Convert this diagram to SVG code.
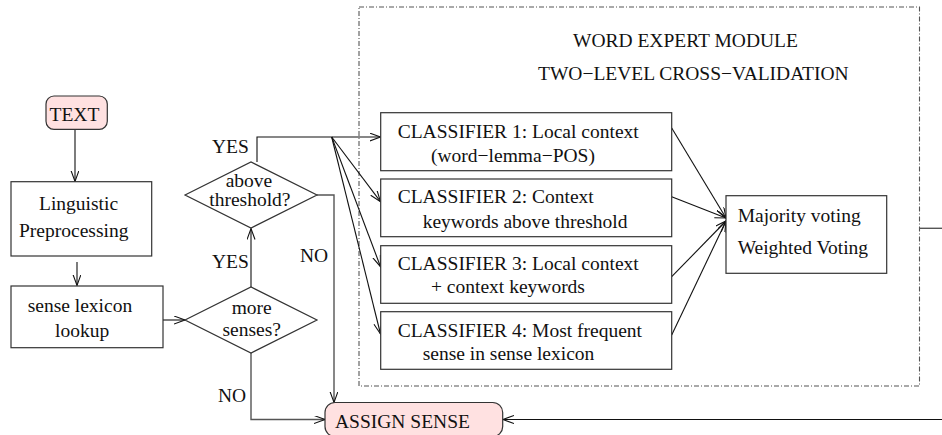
<svg xmlns="http://www.w3.org/2000/svg" width="942" height="435" viewBox="0 0 942 435">
<style>
text{font-family:"Liberation Serif","Times New Roman",serif;font-size:19.5px;fill:#111}
.box{fill:#fff;stroke:#333;stroke-width:1.2}
.term{fill:#ffe1e1;stroke:#333;stroke-width:1.2}
.ln{fill:none;stroke:#111;stroke-width:1.1}
.gl{fill:none;stroke:#555;stroke-width:1.4}
.dash{fill:none;stroke:#555;stroke-width:1.1;stroke-dasharray:5 2 1 2}
</style>
<defs>
<marker id="ah" markerUnits="userSpaceOnUse" markerWidth="14" markerHeight="10" refX="11" refY="4" orient="auto">
<path d="M0,0 L11,4 L0,8" fill="none" stroke="#111" stroke-width="1.1"/>
</marker>
</defs>
<g id="module">
<rect class="dash" x="359" y="7" width="560.5" height="379"/>
<text x="573" y="47">WORD EXPERT MODULE</text>
<text x="538" y="80">TWO−LEVEL CROSS−VALIDATION</text>
</g>
<g id="connectors">
<line class="ln" x1="75" y1="129.5" x2="75" y2="181.5" marker-end="url(#ah)"/>
<line class="ln" x1="77" y1="262" x2="77" y2="285.5" marker-end="url(#ah)"/>
<line class="ln" x1="163" y1="320" x2="185" y2="320" marker-end="url(#ah)"/>
<line class="ln" x1="251" y1="287" x2="251" y2="228.5" marker-end="url(#ah)"/>
<polyline class="gl" points="251,353 251,419.5 325,419.5" marker-end="url(#ah)"/>
<polyline class="gl" points="317,195 334,195 334,402.5" marker-end="url(#ah)"/>
<polyline class="ln" points="257,162 257,137 380.5,137" marker-end="url(#ah)"/>
<line class="ln" x1="331.7" y1="137" x2="380.5" y2="201.7" marker-end="url(#ah)"/>
<line class="ln" x1="331.7" y1="137" x2="380.5" y2="266.7" marker-end="url(#ah)"/>
<line class="ln" x1="331.7" y1="137" x2="380.5" y2="334" marker-end="url(#ah)"/>
<line class="ln" x1="671.7" y1="128" x2="726" y2="218" marker-end="url(#ah)"/>
<line class="ln" x1="671.7" y1="196.7" x2="726" y2="218" marker-end="url(#ah)"/>
<line class="ln" x1="671.7" y1="276.7" x2="726" y2="221" marker-end="url(#ah)"/>
<line class="ln" x1="671.7" y1="335" x2="726" y2="221" marker-end="url(#ah)"/>
<line class="gl" x1="920" y1="228.3" x2="942" y2="228.3"/>
<line class="ln" x1="942" y1="419.5" x2="503" y2="419.5" marker-end="url(#ah)"/>
<text x="212" y="153.3">YES</text>
<text x="212" y="268.3">YES</text>
<text x="300" y="261.7">NO</text>
<text x="218" y="401.7">NO</text>
</g>
<g id="text-node">
<rect class="term" x="46" y="96" width="61.3" height="33.3" rx="8"/>
<text x="49.5" y="120.7">TEXT</text>
</g>
<g id="linguistic">
<rect class="box" x="11" y="181.7" width="140.7" height="74.3"/>
<text x="39" y="210">Linguistic</text>
<text x="19" y="236.7">Preprocessing</text>
</g>
<g id="lexicon">
<rect class="box" x="11" y="286" width="152" height="61.7"/>
<text x="27.7" y="311.7">sense lexicon</text>
<text x="55" y="336.7">lookup</text>
</g>
<g id="more-senses">
<polygon class="box" points="185,320 251,287 317,320 251,353"/>
<text x="231.7" y="314.3">more</text>
<text x="222.5" y="336.3">senses?</text>
</g>
<g id="above-threshold">
<polygon class="box" points="185,195 251,162 317,195 251,228"/>
<text x="225.7" y="186.7">above</text>
<text x="209.3" y="206">threshold?</text>
</g>
<g id="classifier1">
<rect class="box" x="380.7" y="112.7" width="291" height="58"/>
<text x="397.7" y="138.3">CLASSIFIER 1: Local context</text>
<text x="431" y="161.7">(word−lemma−POS)</text>
</g>
<g id="classifier2">
<rect class="box" x="380.7" y="179" width="291" height="57.7"/>
<text x="397.7" y="203.3">CLASSIFIER 2: Context</text>
<text x="422.7" y="228.3">keywords above threshold</text>
</g>
<g id="classifier3">
<rect class="box" x="380.7" y="245.7" width="291" height="57.6"/>
<text x="397.7" y="270">CLASSIFIER 3: Local context</text>
<text x="431" y="293.3">+ context keywords</text>
</g>
<g id="classifier4">
<rect class="box" x="380.7" y="311.7" width="291" height="57.6"/>
<text x="397.7" y="336.7">CLASSIFIER 4: Most frequent</text>
<text x="422.7" y="360">sense in sense lexicon</text>
</g>
<g id="voting">
<rect class="box" x="726" y="195.7" width="160.7" height="77.6"/>
<text x="737.7" y="221.7">Majority voting</text>
<text x="737.7" y="254.3">Weighted Voting</text>
</g>
<g id="assign-sense">
<rect class="term" x="325" y="402.5" width="177.7" height="34" rx="10"/>
<text x="335" y="428.3">ASSIGN SENSE</text>
</g>
</svg>
